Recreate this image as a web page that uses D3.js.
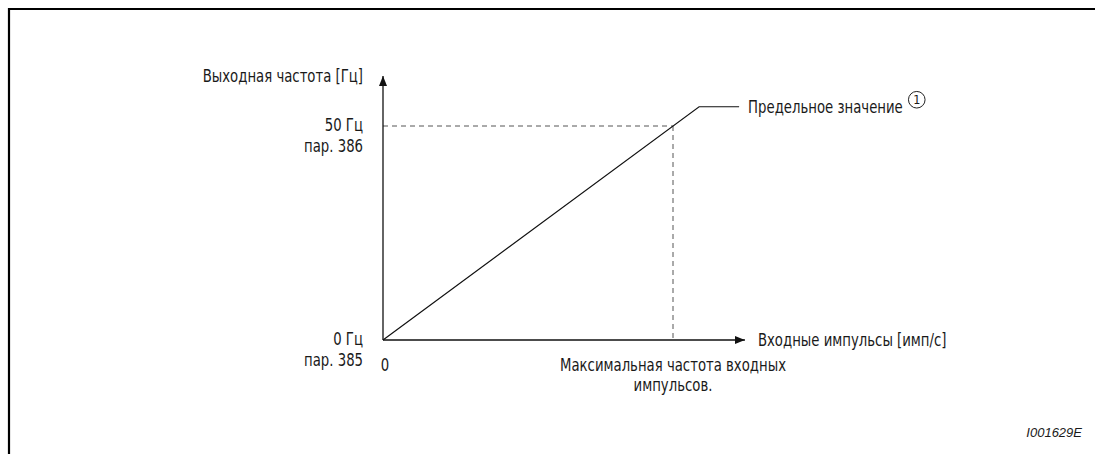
<!DOCTYPE html>
<html><head><meta charset="utf-8">
<script src="https://cdn.jsdelivr.net/npm/d3@7"></script>
<style>
body{margin:0;background:#fff;}
text{font-family:"Liberation Sans Narrow","Arial Narrow","DejaVu Sans Condensed",sans-serif;fill:#1a1a1a;}
</style></head><body>
<svg id="c" width="1095" height="454"></svg>
<script>
// ---- data ----
const yAxisTitle = "Выходная частота [Гц]";
const xAxisTitle = "Входные импульсы [имп/с]";
const yTickValues = [0, 50];
const yTickLabels = [["0 Гц", "пар. 385"], ["50 Гц", "пар. 386"]];
const xTickValues = [0];
const xTickLabels = ["0"];
const lineX = [0, 1.09, 1.228];      // input pulses (relative to max input frequency)
const lineY = [0, 54.5, 54.5];       // output frequency [Hz]
const refX = 1;                      // max input frequency
const refY = 50;                     // 50 Hz
const limitLabel = "Предельное значение";
const xRefLabel = ["Максимальная частота входных", "импульсов."];
const figId = "I001629E";

// ---- layout ----
const svg = d3.select("#c");
const W = 1095, H = 454;
const x = d3.scaleLinear().domain([0, 1]).range([383, 673]);
const y = d3.scaleLinear().domain([0, 50]).range([340, 126]);
const xMax = 1.248, yMax = 61.7;
const fs = 18, SX = 0.82;

function label(px, py, txt, anchor) {
  return svg.append("text")
    .attr("transform", `translate(${px},${py}) scale(${SX},1)`)
    .attr("text-anchor", anchor || "start").attr("font-size", fs).text(txt);
}

// frame
svg.append("path").attr("d", `M9,${H} V9 H${W}`).attr("fill", "none").attr("stroke", "#000").attr("stroke-width", 2.2);

// arrow marker
const defs = svg.append("defs");
defs.append("marker").attr("id", "arr").attr("viewBox", "0 0 10 10").attr("refX", 10).attr("refY", 5)
  .attr("markerWidth", 10).attr("markerHeight", 10).attr("markerUnits", "userSpaceOnUse").attr("orient", "auto")
  .append("path").attr("d", "M0,1 L10,5 L0,9 Z").attr("fill", "#111");

// dashed reference lines
const dash = svg.append("g").attr("stroke", "#555").attr("stroke-width", 1).attr("stroke-dasharray", "5,4").attr("fill", "none");
dash.append("line").attr("x1", x(0)).attr("x2", x(refX)).attr("y1", y(refY)).attr("y2", y(refY));
dash.append("line").attr("x1", x(refX)).attr("x2", x(refX)).attr("y1", y(refY)).attr("y2", y(0));

// axes
svg.append("line").attr("x1", x(0)).attr("y1", y(0)).attr("x2", x(0)).attr("y2", y(yMax))
  .attr("stroke", "#111").attr("stroke-width", 1.3).attr("marker-end", "url(#arr)");
svg.append("line").attr("x1", x(0)).attr("y1", y(0)).attr("x2", x(xMax)).attr("y2", y(0))
  .attr("stroke", "#111").attr("stroke-width", 1.3).attr("marker-end", "url(#arr)");

// characteristic line
const pts = lineX.map((v, i) => [v, lineY[i]]);
svg.append("path").datum(pts).attr("d", d3.line().x(d => x(d[0])).y(d => y(d[1])))
  .attr("fill", "none").attr("stroke", "#111").attr("stroke-width", 1.2);

// y axis title
label(363, 82, yAxisTitle, "end");
// y tick labels
yTickValues.forEach((v, i) => {
  const yy = y(v);
  label(363, yy + 5, yTickLabels[i][0], "end");
  label(363, yy + 26, yTickLabels[i][1], "end");
});
// x tick labels
xTickValues.forEach((v, i) => {
  label(x(v) + 2, y(0) + 31, xTickLabels[i], "middle");
});
// x axis title
label(x(xMax) + 13, y(0) + 6, xAxisTitle);
// ref label under x axis
xRefLabel.forEach((t, i) => label(x(refX), y(0) + 31 + i * 20, t, "middle"));
// limit label
const lx = x(lineX[2]) + 9, ly = y(lineY[2]) + 6;
const lt = label(lx, ly, limitLabel);
const tw = lt.node().getComputedTextLength() * SX;
const cx = lx + tw + 14, cy = ly - 13;
svg.append("circle").attr("cx", cx).attr("cy", cy).attr("r", 8.3).attr("fill", "none").attr("stroke", "#222").attr("stroke-width", 1);
svg.append("text").attr("x", cx).attr("y", cy + 4.5).attr("text-anchor", "middle").attr("font-size", 12.5).text("1");

// figure id
svg.append("text").attr("x", 1082).attr("y", 437).attr("text-anchor", "end")
  .style("font-family", "'Liberation Sans',Arial,sans-serif").style("font-style", "italic").attr("font-size", 13).text(figId);
</script>
</body></html>
